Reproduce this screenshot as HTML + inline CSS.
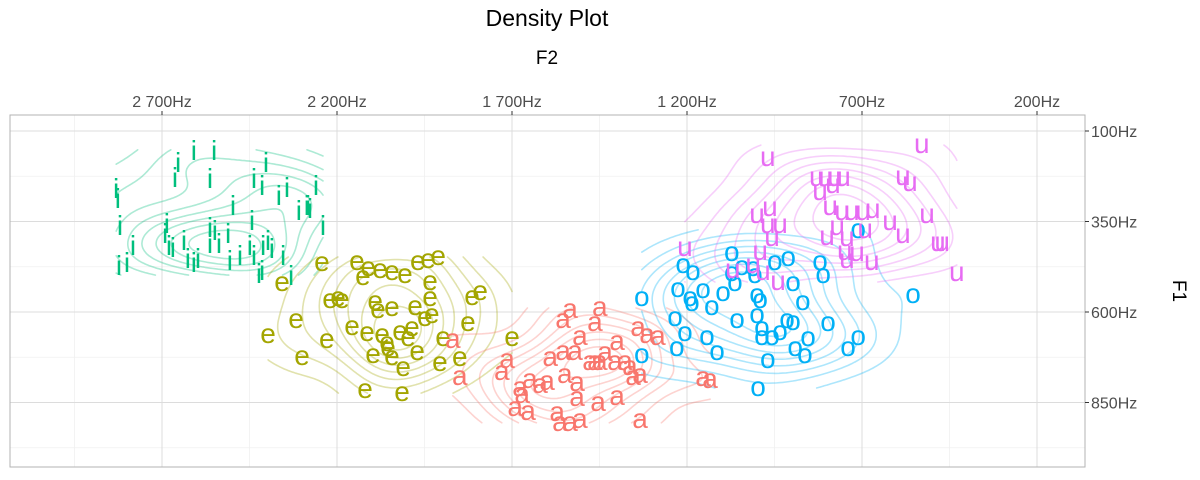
<!DOCTYPE html>
<html><head><meta charset="utf-8"><style>
body{margin:0;background:#fff;}
svg{display:block;font-family:"Liberation Sans",sans-serif;}
</style></head><body>
<svg id="chart" width="1200" height="480" viewBox="0 0 1200 480">
<text x="547" y="26" text-anchor="middle" font-size="23" fill="#000">Density Plot</text>
<text x="547" y="64" text-anchor="middle" font-size="19" fill="#000">F2</text>
<text x="1173" y="291" text-anchor="middle" font-size="19" fill="#000" transform="rotate(90 1173 291)">F1</text>
<g id="grid"></g>
<g id="contours"></g>
<g id="points"></g>
<rect x="10" y="115" width="1075" height="352" fill="none" stroke="#b3b3b3" stroke-width="1"/>
<g id="axes"></g>
</svg>
<script>
const xTicks=[2700,2200,1700,1200,700,200];
const xMinor=[2950,2450,1950,1450,950,450];
const yTicks=[100,350,600,850];
const yMinor=[225,475,725,975];
const vowels=["i","e","a","o","u"];
const colors=["#00BF7D","#A3A500","#F8766D","#00B0F6","#E76BF3"];
const iF2=[2609,2551,2654,2663,2563,2403,2437,2414,2366,2343,2260,2283,2309,2286,2277,2831,2826,2497,2820,2686,2443,2240,2783,2691,2680,2669,2637,2563,2549,2563,2537,2511,2477,2506,2626,2609,2597,2449,2437,2411,2397,2386,2354,2414,2423,2331,2823,2800];
const iF1=[152,152,186,227,230,186,230,249,277,255,249,304,318,304,313,257,285,304,360,354,346,360,415,382,415,420,401,365,373,409,409,382,442,456,451,462,451,415,442,415,401,423,442,484,492,498,470,462];
const eF2=[2357,2243,2143,2126,2111,2077,2043,2006,1969,1940,1911,1934,1814,1791,2220,2197,2186,1934,2091,2083,2043,1977,1949,1929,2317,2397,2229,2157,2114,2071,2020,1986,1997,1897,1826,2057,2054,2300,2097,2043,1971,1906,1849,2011,2120,2014,1700];
const eF1=[520,465,462,503,478,484,489,498,462,456,448,517,558,545,567,561,567,561,572,594,589,586,616,608,622,663,677,641,658,663,655,644,672,672,630,686,699,724,719,724,710,741,727,755,815,824,672];
const aF2=[1869,1849,1534,1449,1554,1463,1506,1714,1729,1591,1554,1520,1463,1434,1400,1406,1377,1363,1340,1314,1283,1334,1354,1549,1514,1677,1671,1649,1620,1600,1691,1654,1514,1454,1400,1571,1563,1534,1506,1334,1154,1134,1449,1477];
const aF1=[677,779,594,589,622,630,669,732,766,727,710,710,738,713,683,738,738,752,644,663,669,774,779,774,796,810,829,788,802,793,865,876,837,851,835,879,906,906,898,898,782,788,738,738];
const oF2=[1072,1211,1183,1226,1329,1191,1186,1154,1129,1097,1063,1072,1043,1011,1006,949,911,820,811,897,1000,991,869,1234,1206,1143,1057,1000,986,986,957,934,914,897,797,854,891,863,711,740,1229,1114,969,1329,997,711,554];
const oF1=[437,470,489,536,561,561,575,539,586,547,520,492,476,478,498,462,451,462,498,520,553,567,572,616,658,669,622,608,644,669,669,655,622,628,630,672,699,719,669,699,699,710,732,719,810,373,553];
const uF2=[969,529,829,806,777,754,820,783,583,563,791,757,729,697,669,620,514,583,800,771,743,691,483,471,749,714,743,672,429,1000,963,969,934,957,1206,991,1069,1011,983,940];
const uF1=[175,139,230,230,230,230,268,249,227,244,310,324,324,324,318,351,332,387,393,365,396,373,409,409,434,437,456,462,492,332,313,360,360,396,423,434,484,470,489,517];
const F2s=[iF2,eF2,aF2,oF2,uF2], F1s=[iF1,eF1,aF1,oF1,uF1];

const NS="http://www.w3.org/2000/svg";
function X(f2){return 162+(2700-f2)*0.35;}
function Y(f1){return 131+(f1-100)*0.362;}
const grid=document.getElementById('grid'), axes=document.getElementById('axes');
function line(g,x1,y1,x2,y2,c,w,name){const l=document.createElementNS(NS,'line');l.setAttribute('x1',x1);l.setAttribute('y1',y1);l.setAttribute('x2',x2);l.setAttribute('y2',y2);l.setAttribute('stroke',c);l.setAttribute('stroke-width',w);


g.appendChild(l);}
xMinor.forEach(v=>{const x=X(v);if(x>10&&x<1085)line(grid,x,115,x,467,'#f0f0f0',0.8,'x-minor-gridline');});
yMinor.forEach(v=>{const y=Y(v);if(y>115&&y<467)line(grid,10,y,1085,y,'#f0f0f0',0.8,'y-minor-gridline');});
xTicks.forEach(v=>{const x=X(v);line(grid,x,115,x,467,'#dcdcdc',1,'x-major-gridline');line(axes,x,111,x,115,'#333',1,'x-tick');
const t=document.createElementNS(NS,'text');t.setAttribute('x',x);t.setAttribute('y',107);t.setAttribute('text-anchor','middle');t.setAttribute('font-size','16');t.setAttribute('fill','#4d4d4d');t.textContent=String(v).replace(/(\d)(\d{3})$/,'$1 $2')+'Hz';


axes.appendChild(t);});
yTicks.forEach(v=>{const y=Y(v);line(grid,10,y,1085,y,'#dcdcdc',1,'y-major-gridline');line(axes,1085,y,1089,y,'#333',1,'y-tick');
const t=document.createElementNS(NS,'text');t.setAttribute('x',1091);t.setAttribute('y',y+6);t.setAttribute('font-size','16');t.setAttribute('fill','#4d4d4d');t.textContent=v+'Hz';


axes.appendChild(t);});

// KDE contours
const cg=document.getElementById('contours');
function sd(a){const m=a.reduce((s,v)=>s+v,0)/a.length;return Math.sqrt(a.reduce((s,v)=>s+(v-m)*(v-m),0)/(a.length-1));}
function iqr(a){const b=[...a].sort((p,q)=>p-q);const q=p=>{const i=(b.length-1)*p,lo=Math.floor(i);return b[lo]+(b[Math.min(lo+1,b.length-1)]-b[lo])*(i-lo);};return q(0.75)-q(0.25);}
vowels.forEach((v,k)=>{
  const px=F2s[k].map(X), py=F1s[k].map(Y), n=px.length;
  const hx=1.3*1.06*Math.min(sd(px),iqr(px)/1.34)*Math.pow(n,-0.2);
  const hy=1.3*1.06*Math.min(sd(py),iqr(py)/1.34)*Math.pow(n,-0.2);
  const x0=Math.min(...px),x1=Math.max(...px),y0=Math.min(...py),y1=Math.max(...py);
  const N=80,gx=[],gy=[];for(let i=0;i<N;i++){gx.push(x0+(x1-x0)*i/(N-1));gy.push(y0+(y1-y0)*i/(N-1));}
  const z=[];let zmax=0;
  for(let j=0;j<N;j++){z.push([]);for(let i=0;i<N;i++){let s=0;for(let p=0;p<n;p++){const dx=(gx[i]-px[p])/hx,dy=(gy[j]-py[p])/hy;s+=Math.exp(-0.5*(dx*dx+dy*dy));}z[j].push(s);if(s>zmax)zmax=s;}}
  let d='';
  const L=9;
  for(let l=1;l<L;l++){const lv=zmax*l/L;
    for(let j=0;j<N-1;j++)for(let i=0;i<N-1;i++){
      const c=[[gx[i],gy[j],z[j][i]],[gx[i+1],gy[j],z[j][i+1]],[gx[i+1],gy[j+1],z[j+1][i+1]],[gx[i],gy[j+1],z[j+1][i]]];
      const pts=[];
      for(let e=0;e<4;e++){const A=c[e],B=c[(e+1)%4];if((A[2]>=lv)!==(B[2]>=lv)){const t=(lv-A[2])/(B[2]-A[2]);pts.push([A[0]+(B[0]-A[0])*t,A[1]+(B[1]-A[1])*t]);}}
      if(pts.length>=2)d+='M'+pts[0][0].toFixed(1)+' '+pts[0][1].toFixed(1)+'L'+pts[1][0].toFixed(1)+' '+pts[1][1].toFixed(1);
      if(pts.length===4)d+='M'+pts[2][0].toFixed(1)+' '+pts[2][1].toFixed(1)+'L'+pts[3][0].toFixed(1)+' '+pts[3][1].toFixed(1);
    }}
  const p=document.createElementNS(NS,'path');p.setAttribute('d',d);p.setAttribute('fill','none');p.setAttribute('stroke',colors[k]);p.setAttribute('stroke-opacity','0.32');p.setAttribute('stroke-width','1.6');p.setAttribute('stroke-linecap','round');
  
  
  cg.appendChild(p);
});
// points
const pg=document.getElementById('points');
vowels.forEach((v,k)=>{
  F2s[k].forEach((f2,idx)=>{
    const t=document.createElementNS(NS,'text');
    t.setAttribute('x',X(f2));t.setAttribute('y',Y(F1s[k][idx])+(v==='i'?10:8));
    t.setAttribute('text-anchor','middle');t.setAttribute('font-size','28');t.setAttribute('fill',colors[k]);
    t.textContent=v;
    
    
    pg.appendChild(t);
  });
});
</script>
</body></html>
